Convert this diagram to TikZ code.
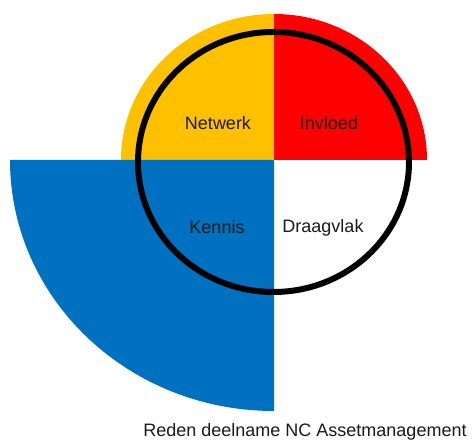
\documentclass[tikz,border=0pt]{standalone}
\usepackage{fontspec}
\setmainfont{Liberation Sans}
\definecolor{qorange}{HTML}{FFC000}
\definecolor{qred}{HTML}{FF0000}
\definecolor{qblue}{HTML}{0070C0}
\definecolor{qtext}{HTML}{1A1A1A}
\tikzset{
  lbl/.style={font=\fontsize{18pt}{20pt}\selectfont, text=qtext, inner sep=0pt},
  ring/.style={draw=black, line width=6pt}
}
\begin{document}
\begin{tikzpicture}[x=1pt,y=1pt]
\useasboundingbox (0,0) rectangle (472,442);
\coordinate (c) at (274,282);
% quadrants
\fill[qorange] (c) -- (121,282) arc[start angle=180,end angle=90,x radius=153pt,y radius=146pt] -- cycle;
\fill[qred] (c) -- (427,282) arc[start angle=0,end angle=90,x radius=153pt,y radius=146pt] -- cycle;
\fill[qblue] (c) -- (10,282) arc[start angle=180,end angle=270,x radius=264pt,y radius=251pt] -- cycle;
% ring
\draw[ring] (273.5,280) ellipse[x radius=135.5pt,y radius=130pt];
% labels
\node[lbl] (netwerk) at (218,319) {Netwerk};
\node[lbl] (invloed) at (329,319) {Invloed};
\node[lbl] (kennis) at (217,215) {Kennis};
\node[lbl] (draagvlak) at (323,214) {Draagvlak};
\node[lbl] (title) at (305,10) {Reden deelname NC Assetmanagement};
\end{tikzpicture}
\end{document}
